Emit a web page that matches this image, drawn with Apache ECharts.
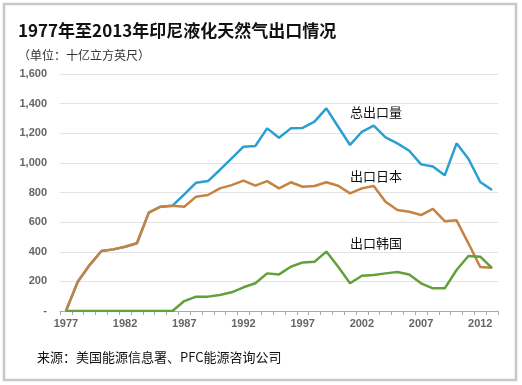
<!DOCTYPE html>
<html>
<head>
<meta charset="utf-8">
<script src="https://cdn.jsdelivr.net/npm/echarts@6/dist/echarts.min.js"></script>
<style>
html,body{margin:0;padding:0;background:#fff;}
#c{width:522px;height:385px;}
</style>
</head>
<body>
<div id="c"></div>
<script>
var years = [];
for (var y = 1977; y <= 2013; y++) years.push(String(y));

var totalExports = [0,198,310,405,416,434,457,664,704,711,
  788,866,877,952,1031,1109,1114,1233,1170,1233,
  1236,1278,1368,1244,1121,1210,1251,1172,1132,1082,
  990,976,916,1132,1028,871,817];
var japanExports = [0,198,310,405,416,434,457,664,704,711,
  704,772,783,828,850,880,846,877,828,869,
  839,844,869,846,794,828,844,738,682,670,
  648,689,606,612,457,297,292];
var koreaExports = [0,0,0,0,0,0,0,0,0,0,
  67,97,97,108,126,160,187,254,247,299,
  328,333,401,299,187,238,243,254,263,247,
  187,153,153,277,371,367,290];

var titleText = '1977年至2013年印尼液化天然气出口情况';
var unitText = '（单位：十亿立方英尺）';
var sourceText = '来源：美国能源信息署、PFC能源咨询公司';
var seriesNames = ['总出口量', '出口日本', '出口韩国'];

var chart = echarts.init(document.getElementById('c'), null, {renderer: 'canvas'});
var cjk = '"Noto Sans CJK SC", "Noto Sans", sans-serif';
var latin = '"Liberation Sans", Arial, sans-serif';

var option = {
  backgroundColor: '#fff',
  animation: false,
  grid: {left: 60, right: 24, top: 74, bottom: 74, containLabel: false},
  xAxis: {
    type: 'category',
    data: years,
    boundaryGap: true,
    axisLine: {lineStyle: {color: '#a8a8a8', width: 1}},
    axisTick: {show: true, interval: 0, length: 4, lineStyle: {color: '#a8a8a8'}},
    axisLabel: {interval: 4, color: '#666', fontSize: 11, fontWeight: 'bold', fontFamily: latin, margin: 7}
  },
  yAxis: {
    type: 'value',
    min: 0, max: 1600, interval: 200,
    axisLine: {show: false},
    axisTick: {show: false},
    splitLine: {lineStyle: {color: '#e3e3e3', width: 1}},
    axisLabel: {
      color: '#666', fontSize: 11, fontWeight: 'bold', fontFamily: latin, margin: 13,
      formatter: function (v) { return v === 0 ? '-' : v.toLocaleString('en-US'); }
    }
  },
  series: [
    {name: seriesNames[0], type: 'line', data: totalExports, symbol: 'none', z: 2,
     lineStyle: {color: '#2a9fd2', width: 2.5}},
    {name: seriesNames[1], type: 'line', data: japanExports, symbol: 'none', z: 3,
     lineStyle: {color: '#c7823f', width: 2.5}},
    {name: seriesNames[2], type: 'line', data: koreaExports, symbol: 'none', z: 4,
     lineStyle: {color: '#62a03a', width: 2.5}}
  ],
  graphic: [
    {type: 'rect', shape: {x: 4, y: 4, width: 512, height: 376}, style: {fill: 'none', stroke: '#c8c8c8', lineWidth: 2.5}, z: 100},
    {type: 'text', x: 18, y: 31, style: {text: titleText, font: 'bold 17px ' + cjk, fill: '#111', textVerticalAlign: 'middle'}},
    {type: 'text', x: 18, y: 55, style: {text: unitText, font: '12px ' + cjk, fill: '#333', textVerticalAlign: 'middle'}},
    {type: 'text', x: 37, y: 357, style: {text: sourceText, font: '13px ' + cjk, fill: '#111', textVerticalAlign: 'middle'}},
    {type: 'text', x: 350, y: 112, style: {text: seriesNames[0], font: '13px ' + cjk, fill: '#111', textVerticalAlign: 'middle'}},
    {type: 'text', x: 350, y: 176, style: {text: seriesNames[1], font: '13px ' + cjk, fill: '#111', textVerticalAlign: 'middle'}},
    {type: 'text', x: 350, y: 243, style: {text: seriesNames[2], font: '13px ' + cjk, fill: '#111', textVerticalAlign: 'middle'}}
  ]
};
chart.setOption(option);
</script>
</body>
</html>
